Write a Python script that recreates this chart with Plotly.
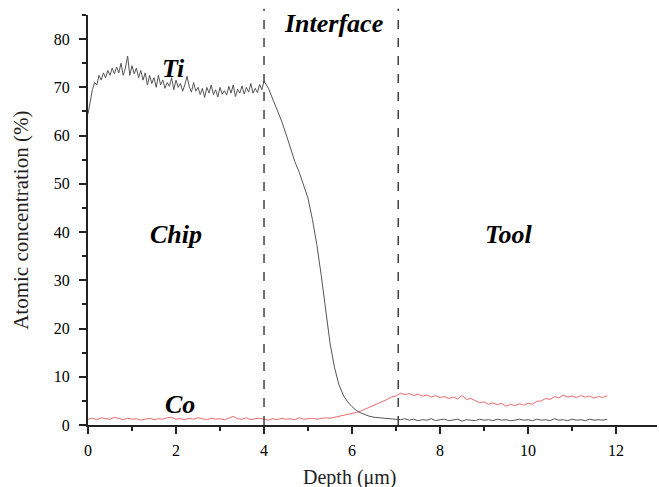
import plotly.graph_objects as go

# Ti concentration: 0-4 um sampled every 0.05 um, then 4.1-11.8 um every 0.1 um
ti_fine = [64.5, 67.5, 69.5, 71.0, 70.5, 72.5, 71.5, 73.0, 72.0, 73.5,
           72.5, 74.0, 72.8, 74.2, 73.0, 75.0, 72.5, 74.0, 76.5, 72.5,
           74.5, 72.8, 74.0, 72.0, 73.5, 71.5, 73.0, 70.5, 72.5, 70.8,
           72.0, 70.0, 72.5, 70.5, 71.5, 69.8, 71.0, 70.2, 72.0, 69.5,
           71.5, 70.0, 70.8, 69.2, 70.5, 72.3, 70.2, 69.0, 71.0, 69.2,
           70.0, 68.5, 69.8, 67.9, 70.0, 68.8, 70.5, 68.5, 69.5, 68.0,
           70.0, 68.6, 69.3, 68.4, 70.2, 68.8, 70.5, 68.1, 69.6, 68.8,
           70.3, 68.6, 70.0, 69.0, 70.8, 68.8, 69.8, 68.9, 70.6, 69.5,
           71.3]
ti_coarse = [69.8, 67.6, 65.5, 63.0, 60.3, 57.2, 54.6, 52.4, 49.8, 47.0,
             42.6, 37.4, 31.0, 23.6, 17.0, 12.0, 8.4, 6.2, 4.8, 3.8,
             3.0, 2.5, 2.1, 1.8, 1.6, 1.5, 1.4, 1.3, 1.2, 1.2,
             1.1, 1.3, 1.0, 1.2, 0.9, 1.1, 1.0, 1.3, 0.9, 1.1,
             1.2, 0.9, 1.0, 1.2, 0.8, 1.1, 1.0, 0.9, 1.2, 1.0,
             1.1, 0.9, 1.2, 1.0, 1.1, 0.9, 1.0, 1.2, 1.0, 1.1,
             0.9, 1.2, 1.0, 1.1, 0.9, 1.3, 1.0, 1.1, 0.9, 1.2,
             1.0, 1.1, 0.9, 1.2, 1.0, 1.1, 1.0, 1.2]

# Co concentration: 0-11.8 um every 0.1 um
co_vals = [1.2, 1.4, 1.1, 1.5, 1.3, 1.2, 1.6, 1.3, 1.1, 1.4,
           1.2, 1.3, 1.0, 1.2, 1.4, 1.1, 1.3, 1.2, 1.5, 1.6,
           1.2, 1.3, 1.1, 1.4, 1.2, 1.5, 1.3, 1.1, 1.4, 1.2,
           1.3, 1.1, 1.4, 1.8, 1.3, 1.2, 1.5, 1.1, 1.3, 1.4,
           1.2, 1.0, 1.3, 1.1, 1.4, 1.2, 1.3, 1.1, 1.5, 1.2,
           1.3, 1.4, 1.2, 1.3, 1.5,
           1.4, 1.6, 1.7, 1.9, 2.1, 2.3,
           2.6, 2.9, 3.3, 3.6, 4.0, 4.4, 4.9, 5.3, 5.8, 6.0,
           6.6, 6.3, 6.5, 6.1, 6.4, 6.0, 6.2, 5.8, 6.1, 5.7,
           5.9, 5.5, 5.8, 5.4, 6.1, 5.3, 5.5, 5.0, 4.6, 4.8,
           4.3, 4.6, 4.2, 4.5, 3.9, 4.3, 4.0, 4.4, 4.1, 4.5,
           4.3, 4.9, 5.0, 5.5, 5.3, 5.9, 5.6, 6.2, 5.8, 6.0,
           5.7, 6.1, 5.8, 6.0, 5.6, 5.9, 5.7, 6.1]

interface_bounds = [4.0, 7.05]
x_ticks = [0, 2, 4, 6, 8, 10, 12]
y_ticks = [0, 10, 20, 30, 40, 50, 60, 70, 80]

ti_depth = [round(i * 0.05, 3) for i in range(len(ti_fine))] + \
           [round(4.1 + i * 0.1, 3) for i in range(len(ti_coarse))]
ti_vals = ti_fine + ti_coarse
co_depth = [round(i * 0.1, 3) for i in range(len(co_vals))]

SERIF = "Liberation Serif"

fig = go.Figure()
fig.add_trace(go.Scatter(x=co_depth, y=co_vals, mode="lines",
                         line=dict(color="#f06a6e", width=1), name="Co"))
fig.add_trace(go.Scatter(x=ti_depth, y=ti_vals, mode="lines",
                         line=dict(color="#555555", width=1), name="Ti"))

for xb in interface_bounds:
    fig.add_shape(type="line", x0=xb, x1=xb, xref="x", y0=0, y1=1.015, yref="paper",
                  line=dict(color="#404040", width=1.5, dash="dash"))

labels = [("Ti", 1.95, 74.0), ("Interface", 5.59, 83.3), ("Chip", 2.0, 39.4),
          ("Tool", 9.55, 39.4), ("Co", 2.1, 4.3)]
for txt, xx, yy in labels:
    fig.add_annotation(x=xx, y=yy, text="<b><i>%s</i></b>" % txt, showarrow=False,
                       font=dict(family=SERIF, size=26, color="black"))

fig.add_annotation(x=0.46, y=-0.127, xref="paper", yref="paper", text="Depth (μm)",
                   showarrow=False, yanchor="middle",
                   font=dict(family=SERIF, size=20, color="#222"))
fig.add_annotation(x=-0.118, y=0.5, xref="paper", yref="paper", text="Atomic concentration (%)",
                   showarrow=False, textangle=-90, xanchor="center", yanchor="middle",
                   font=dict(family=SERIF, size=21, color="#222"))

fig.update_layout(
    width=659, height=487,
    margin=dict(l=88, r=2, t=15, b=62),
    paper_bgcolor="white", plot_bgcolor="white",
    showlegend=False,
    font=dict(family=SERIF, size=16, color="black"),
)
fig.update_xaxes(range=[0, 12.93], tickvals=x_ticks, ticks="outside", ticklen=7, tickwidth=1.5,
                 showline=True, linecolor="#222", linewidth=2, showgrid=False, zeroline=False,
                 minor=dict(dtick=1, tick0=0, ticks="outside", ticklen=4, tickwidth=1.5, tickcolor="#222"),
                 tickcolor="#222", ticklabelstandoff=3,
                 tickfont=dict(family=SERIF, size=16, color="black"))
fig.update_yaxes(range=[0, 85], tickvals=y_ticks, ticks="outside", ticklen=7, tickwidth=1.5,
                 showline=True, linecolor="#222", linewidth=2, showgrid=False, zeroline=False,
                 minor=dict(dtick=5, tick0=0, ticks="outside", ticklen=4, tickwidth=1.5, tickcolor="#222"),
                 tickcolor="#222", ticklabelstandoff=6,
                 tickfont=dict(family=SERIF, size=16, color="black"))

fig.write_html("out.html")
